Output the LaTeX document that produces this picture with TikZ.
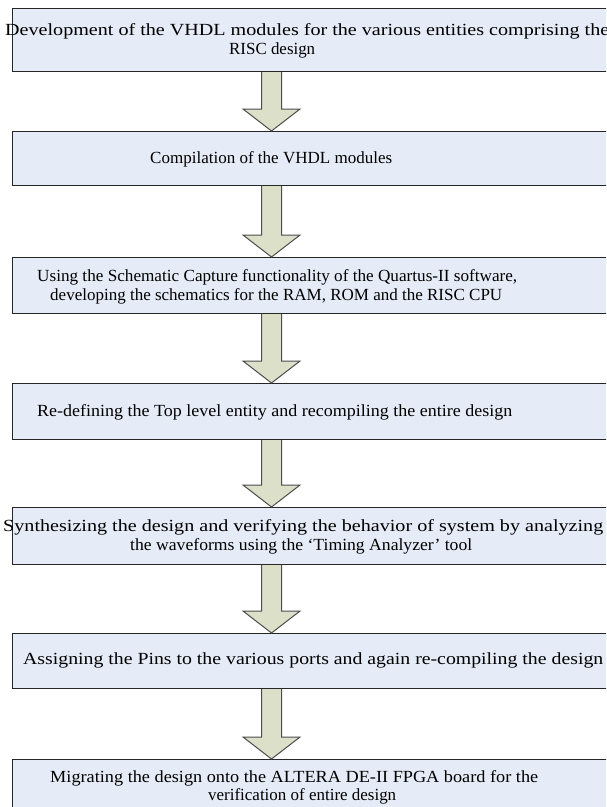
\documentclass[tikz,border=0pt]{standalone}
\usepackage{fontspec}
\setmainfont{Liberation Serif}
\usetikzlibrary{calc}
\definecolor{boxfill}{RGB}{230,236,247}
\definecolor{arrfill}{RGB}{221,224,200}
\newcommand{\fitto}[2]{\resizebox{#1pt}{\height}{#2}}
\begin{document}
\begin{tikzpicture}[x=1pt,y=-1pt,
  box/.style={draw=black!85, line width=1.1pt, fill=boxfill, rectangle, anchor=north west, minimum width=640pt, inner sep=0pt},
  txt/.style={anchor=west, inner sep=0pt, text height=13pt, text depth=3pt, font=\fontsize{17}{19}\selectfont},
  flow/.style={draw=black!70, line width=1pt, fill=arrfill, line join=miter}]
\useasboundingbox (0,0) rectangle (606,807);
\clip (0,0) rectangle (606,807);
\coordinate (ax) at (271.5,0);
\node[box, minimum height=63pt] (b1) at (12,8) {};
\node[box, minimum height=54pt] (b2) at (12,131) {};
\node[box, minimum height=56pt] (b3) at (12,257) {};
\node[box, minimum height=56pt] (b4) at (12,383) {};
\node[box, minimum height=57pt] (b5) at (12,507) {};
\node[box, minimum height=55pt] (b6) at (12,633) {};
\node[box, minimum height=70pt] (b7) at (12,759) {};
\foreach \a/\b in {b1/b2,b2/b3,b3/b4,b4/b5,b5/b6,b6/b7}{
  \draw[flow] ($(\a.south -| ax)+(-10,0)$) -- ($(\b.north -| ax)+(-10,-22)$) -- ($(\b.north -| ax)+(-28.5,-22)$)
    -- (\b.north -| ax) -- ($(\b.north -| ax)+(28.5,-22)$) -- ($(\b.north -| ax)+(10,-22)$) -- ($(\a.south -| ax)+(10,0)$);
}
\node[txt] (t1a) at (5,30) {\fitto{604}{Development of the VHDL modules for the various entities comprising the}};
\node[txt] (t1b) at (229,49) {\fitto{86}{RISC design}};
\node[txt] (t2) at (150,158) {\fitto{242}{Compilation of the VHDL modules}};
\node[txt] (t3a) at (37,276) {\fitto{480}{Using the Schematic Capture functionality of the Quartus-II software,}};
\node[txt] (t3b) at (50,295) {\fitto{452}{developing the schematics for the RAM, ROM and the RISC CPU}};
\node[txt] (t4) at (37,411) {\fitto{475}{Re-defining the Top level entity and recompiling the entire design}};
\node[txt] (t5a) at (3,526) {\fitto{600}{Synthesizing the design and verifying the behavior of system by analyzing}};
\node[txt] (t5b) at (130,545) {\fitto{342}{the waveforms using the ‘Timing Analyzer’ tool}};
\node[txt] (t6) at (23,659) {\fitto{580}{Assigning the Pins to the various ports and again re-compiling the design}};
\node[txt] (t7a) at (50,777) {\fitto{488}{Migrating the design onto the ALTERA DE-II FPGA board for the}};
\node[txt] (t7b) at (208,795) {\fitto{188}{verification of entire design}};
\end{tikzpicture}
\end{document}
